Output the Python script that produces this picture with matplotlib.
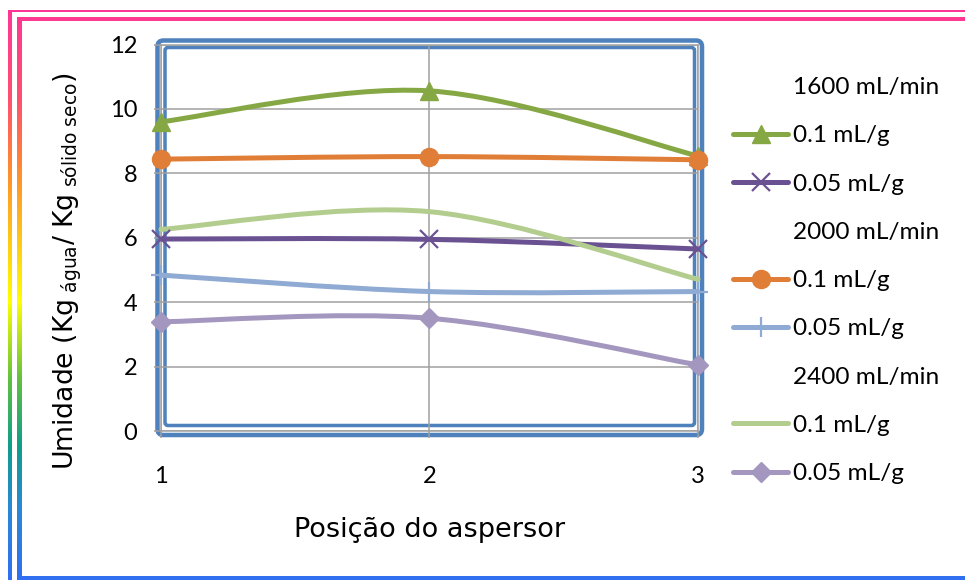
import numpy as np
import matplotlib
matplotlib.use("Agg")
import matplotlib.pyplot as plt
from matplotlib.path import Path
from matplotlib.patches import PathPatch, FancyBboxPatch, Rectangle
from matplotlib.lines import Line2D
from matplotlib.colors import LinearSegmentedColormap

# ---------------- data ----------------
positions = [1, 2, 3]
x_tick_labels = ["1", "2", "3"]
y_ticks = [0, 2, 4, 6, 8, 10, 12]
group_titles = ["1600 mL/min", "2000 mL/min", "2400 mL/min"]
series_labels = ["0.1 mL/g", "0.05 mL/g"]

v1600_01 = [9.60, 10.56, 8.54]
v1600_005 = [5.96, 5.95, 5.65]
v2000_01 = [8.44, 8.52, 8.42]
v2000_005 = [4.84, 4.33, 4.33]
v2400_01 = [6.26, 6.81, 4.71]
v2400_005 = [3.39, 3.50, 2.05]

x_label = "Posição do aspersor"
y_label = r"Umidade (Kg$_{\mathregular{\ água}}$/ Kg$_{\mathregular{\ sólido\ seco}}$)"

# ---------------- styles ----------------
groups = [
    (group_titles[0], [(v1600_01, "#86A844", "^", 13, 1.0), (v1600_005, "#6A5192", "x", 13, 1.6)]),
    (group_titles[1], [(v2000_01, "#E07E38", "o", 13, 1.0), (v2000_005, "#8FAAD3", "+", 14, 1.6)]),
    (group_titles[2], [(v2400_01, "#B3CD8F", "None", 1, 1.0), (v2400_005, "#A497BF", "D", 10, 1.0)]),
]
LW = 3.6
TXT_FONT = "Lato"
LBL_FONT = "DejaVu Sans"

W, H = 965, 580
fig = plt.figure(figsize=(W / 100, H / 100), dpi=100)

# overlay for decorative frame (pixel coords, y down)
ov = fig.add_axes([0, 0, 1, 1], zorder=0)
ov.axis("off")

cmap = LinearSegmentedColormap.from_list(
    "rainbow_frame",
    [(0.0, "#FF3399"), (0.17, "#FF5070"), (0.29, "#FF8A30"), (0.52, "#FFFF00"),
     (0.655, "#62C040"), (0.77, "#0E9E8A"), (0.88, "#2A88D8"), (1.0, "#3070F0")])
grad = np.linspace(0, 1, 580).reshape(-1, 1)


def grad_strip(x0, x1, y0, y1):
    sub = grad[int(y0):int(y1)]
    ov.imshow(sub, cmap=cmap, vmin=0, vmax=1, extent=[x0, x1, y1, y0],
              aspect="auto", interpolation="bilinear", zorder=1)


# outer thin frame
ov.add_patch(Rectangle((8.0, 9.8), W - 8.0, 2.6, color=cmap(10 / H), lw=0, zorder=1))
grad_strip(8.0, 11.8, 10, H)
# inner thick frame
ov.add_patch(Rectangle((16.6, 16.6), W - 16.6, 4.0, color=cmap(18 / H), lw=0, zorder=1))
grad_strip(16.6, 20.8, 17, 576)
ov.add_patch(Rectangle((16.6, 576), W - 16.6, 4.0, color="#3070F0", lw=0, zorder=1))

# plot-area blue double border
blue = "#4F81BD"
ov.add_patch(FancyBboxPatch((157.5, 40.5), 702 - 157.5, 435 - 40.5,
                            boxstyle="round,pad=0,rounding_size=6",
                            fill=False, ec=blue, lw=4.5 * 0.72, zorder=2))
ov.add_patch(FancyBboxPatch((165, 47.5), 694.5 - 165, 425.5 - 47.5,
                            boxstyle="round,pad=0,rounding_size=3",
                            fill=False, ec=blue, lw=3.5 * 0.72, zorder=2))
ov.set_xlim(0, W)
ov.set_ylim(H, 0)

# ---------------- main axes ----------------
ax = fig.add_axes([161 / W, 1 - 431 / H, (698 - 161) / W, (431 - 44.5) / H], zorder=2)
ax.patch.set_alpha(0)
ax.set_xlim(1, 3)
ax.set_ylim(0, 12)
ax.set_xticks(positions)
ax.set_xticklabels(x_tick_labels)
ax.set_yticks(y_ticks)
ax.grid(True, color="#A0A0A0", lw=1.1)
ax.set_axisbelow(True)
for s in ax.spines.values():
    s.set_color("#A0A0A0")
    s.set_linewidth(1.1)
ax.tick_params(axis="y", length=5, width=1.1, color="#A0A0A0", pad=12, labelsize=17)
ax.tick_params(axis="x", length=5, width=1.1, color="#A0A0A0", pad=20, labelsize=17)
for lab in ax.get_xticklabels() + ax.get_yticklabels():
    lab.set_fontfamily(TXT_FONT)


def smooth_path(xs, ys):
    pts = np.column_stack([xs, ys]).astype(float)
    n = len(pts)
    verts = [pts[0]]
    codes = [Path.MOVETO]
    for i in range(n - 1):
        p0 = pts[max(i - 1, 0)]
        p1 = pts[i]
        p2 = pts[i + 1]
        p3 = pts[min(i + 2, n - 1)]
        c1 = p1 + (p2 - p0) / 6.0
        c2 = p2 - (p3 - p1) / 6.0
        verts += [c1, c2, p2]
        codes += [Path.CURVE4] * 3
    return Path(verts, codes)


handles, labels = [], []
for title, series in groups:
    handles.append(Line2D([], [], linestyle="None", marker="None"))
    labels.append(title)
    for (vals, col, mk, ms, mew), lab in zip(series, series_labels):
        patch = PathPatch(smooth_path(positions, vals), fill=False, ec=col, lw=LW,
                          capstyle="round", joinstyle="round", clip_on=False, zorder=3)
        ax.add_patch(patch)
        if mk != "None":
            ax.plot(positions, vals, linestyle="None", marker=mk, ms=ms, color=col,
                    mec=col, mew=mew, clip_on=False, zorder=4)
        handles.append(Line2D([], [], color=col, lw=LW, marker=mk, ms=ms, mew=mew,
                              solid_capstyle="round"))
        labels.append(lab)

leg = fig.legend(handles, labels, loc="upper left", bbox_to_anchor=(733 / W, 1 - 77 / H),
                 frameon=False, prop={"family": TXT_FONT, "size": 17.6},
                 handlelength=2.25, handletextpad=0.2, labelspacing=1.11, borderpad=0,
                 borderaxespad=0)

fig.text(429.5 / W, 1 - 530 / H, x_label, ha="center", va="center",
         fontsize=19.5, family=LBL_FONT)
fig.text(68 / W, 1 - 271 / H, y_label, ha="center", va="center", rotation=90,
         fontsize=19.2, family=LBL_FONT)

fig.savefig("out.png", dpi=100)
